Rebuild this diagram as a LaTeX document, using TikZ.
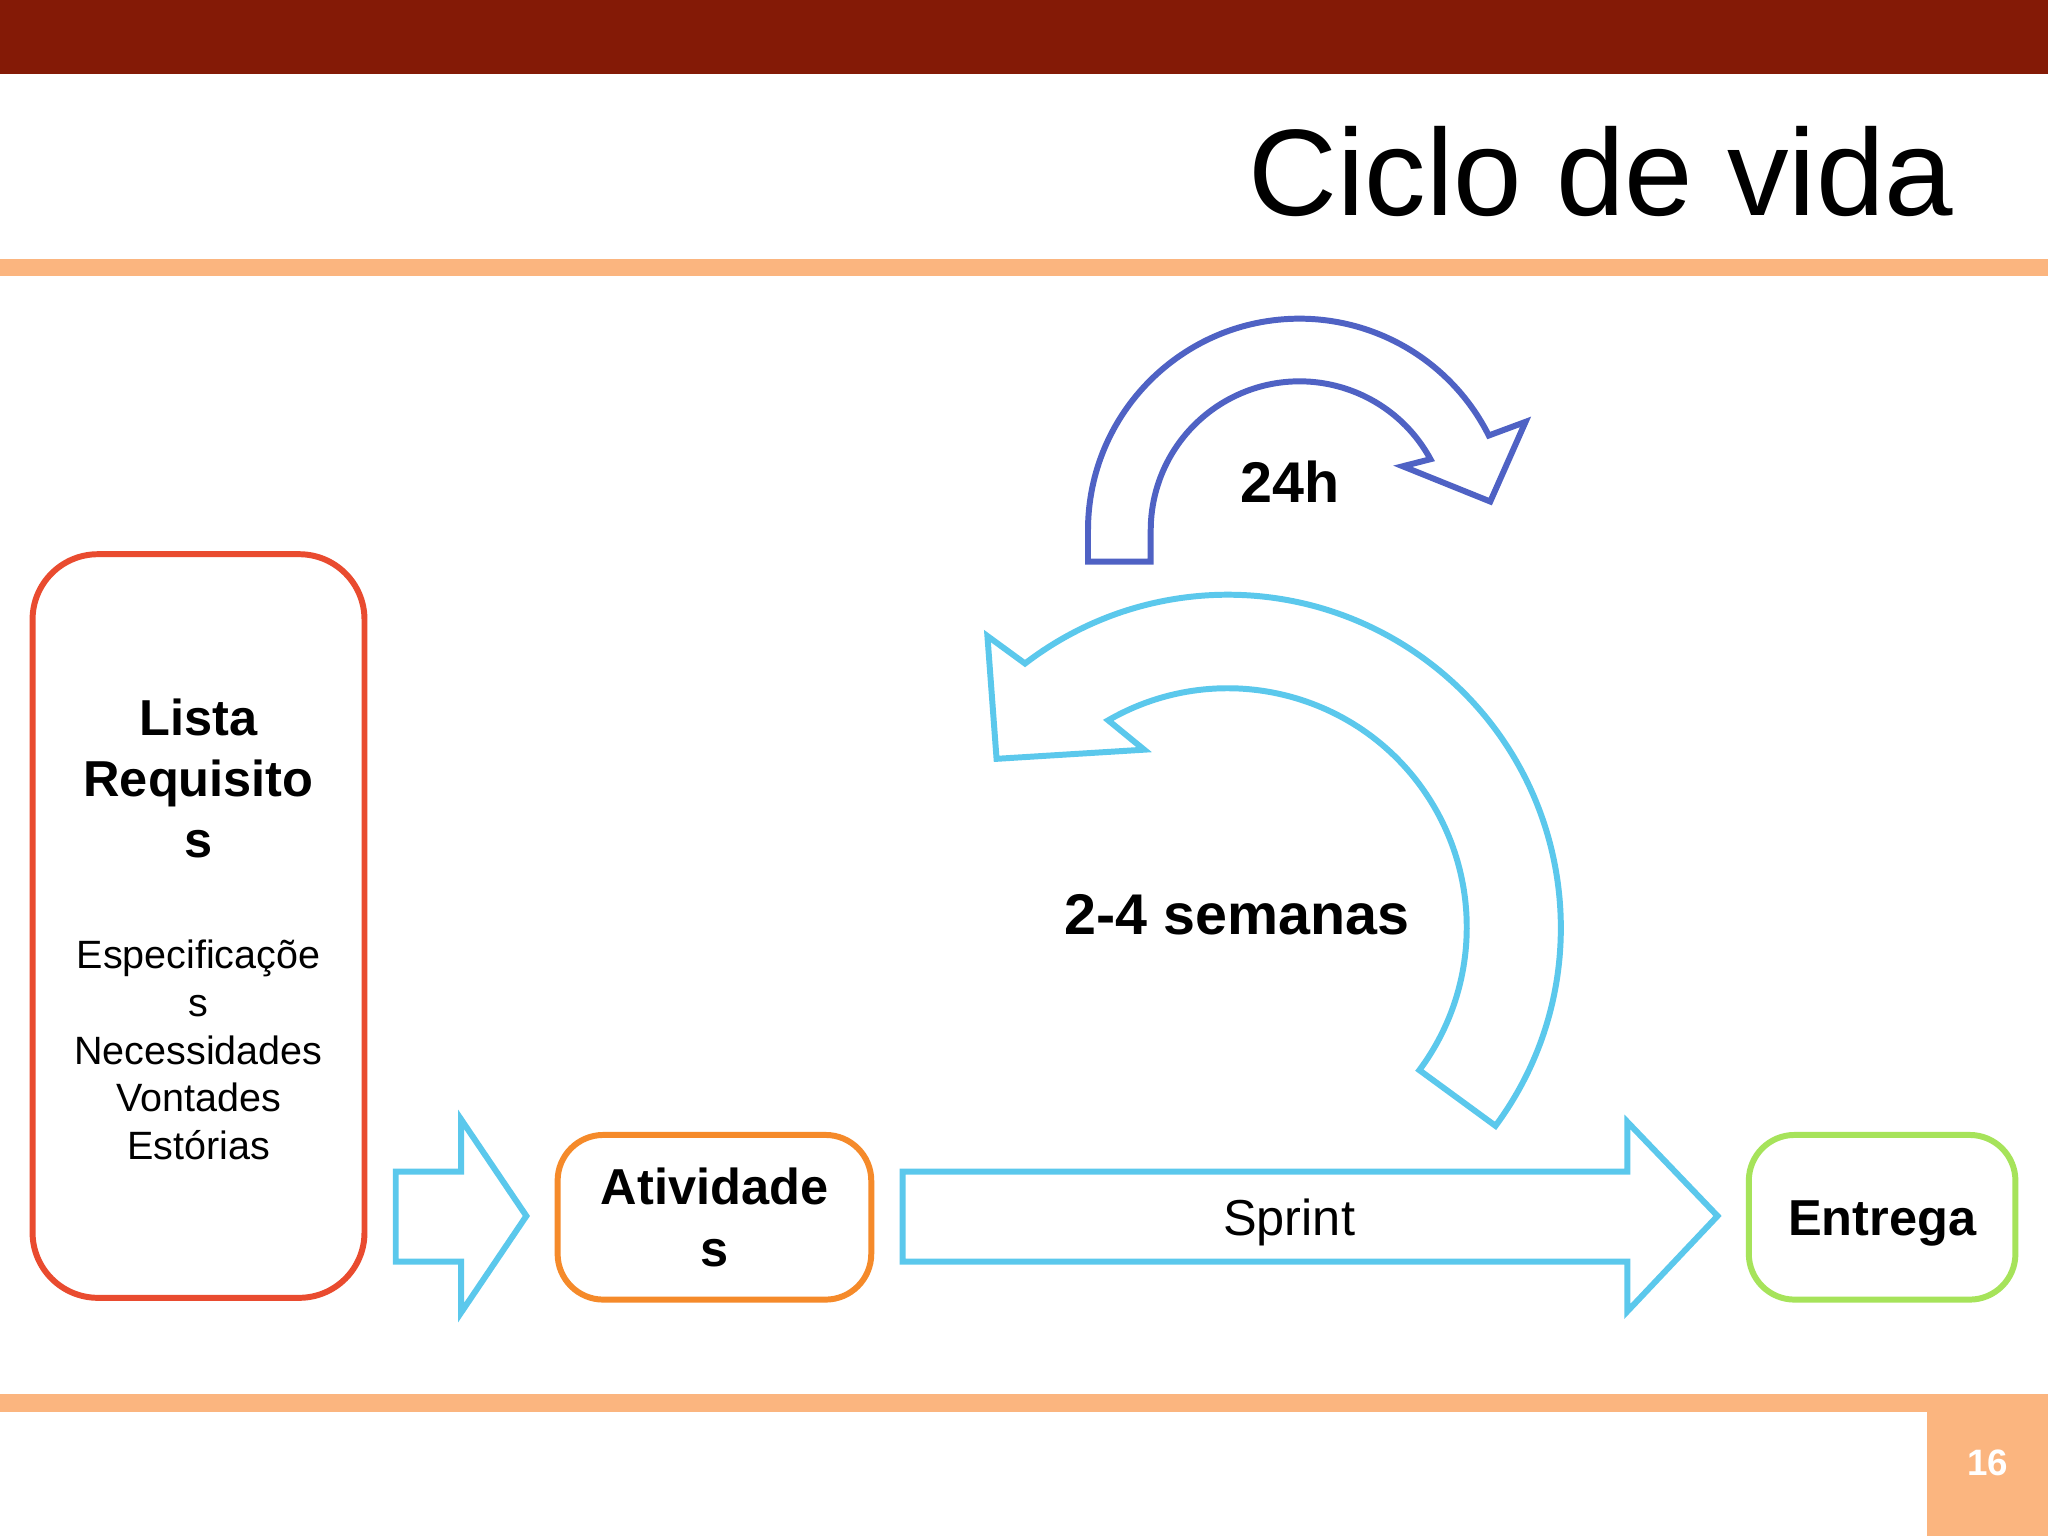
\documentclass[tikz,border=0pt]{standalone}
\usepackage{fontspec}
\setmainfont{Liberation Sans}
\definecolor{topred}{HTML}{841A06}
\definecolor{peach}{HTML}{FBB57F}
\definecolor{cred}{HTML}{E94B2F}
\definecolor{corange}{HTML}{F58A2A}
\definecolor{cgreen}{HTML}{A6E35A}
\definecolor{ccyan}{HTML}{5BC8EC}
\definecolor{cblue}{HTML}{4F62C4}
\tikzset{
 box/.style={draw,line width=1.3pt,rounded corners=0.35cm,align=center,font=\fontsize{11}{13.5}\selectfont\bfseries},
 shapeline/.style={line width=1.3pt,line join=miter,fill=white},
 lbl/.style={font=\fontsize{12.5}{15}\selectfont\bfseries}
}
\begin{document}
\begin{tikzpicture}[x=0.01cm,y=0.01cm]
\useasboundingbox (0,0) rectangle (1568,1176);
\fill[white] (0,0) rectangle (1568,1176);
\fill[topred] (0,1119) rectangle (1568,1176);
\fill[peach] (0,965) rectangle (1568,978);
\fill[peach] (0,95) rectangle (1568,109);
\fill[peach] (1475,0) rectangle (1568,95);
\node[font=\fontsize{8}{9}\selectfont\bfseries,text=white] (pg) at (1522,56) {16};
\node[anchor=east,font=\fontsize{26.8}{31}\selectfont] (title) at (1508,1045) {Ciclo de vida};
% boxes
\node[box,draw=cred,minimum width=2.54cm,minimum height=5.69cm,rounded corners=0.5cm] (lista) at (152,467) {};
\node[align=center,font=\fontsize{11}{13.3}\selectfont\bfseries] (listat) at (152,580) {Lista\\Requisito\\s};
\node[align=center,font=\fontsize{8.6}{10.4}\selectfont] (listas) at (152,372) {Especificaçõe\\s\\Necessidades\\Vontades\\Estórias};
\node[box,draw=corange,minimum width=2.4cm,minimum height=1.26cm] (ativ) at (547,244) {Atividade\\s};
\node[box,draw=cgreen,minimum width=2.04cm,minimum height=1.26cm] (entr) at (1441,244) {};
\node[font=\fontsize{11}{13.5}\selectfont\bfseries] (entrt) at (1441,239) {Entrega};
% block arrows
\draw[shapeline,draw=ccyan] (303,279) -- (353,279) -- (353,319) -- (403,245) -- (353,171) -- (353,210) -- (303,210) -- cycle;
\draw[shapeline,draw=ccyan] (691,279) -- (1246,279) -- (1246,317) -- (1315,245) -- (1246,172) -- (1246,210) -- (691,210) -- cycle;
\node[font=\fontsize{11}{13}\selectfont] (spr) at (987,240) {Sprint};
% big cyan curved arrow
\draw[shapeline,draw=ccyan] (1145,314) arc[start angle=-36.5,end angle=127.5,radius=255] -- (756,689) -- (763,595) -- (876,602) -- (848.5,624.5) arc[start angle=120,end angle=-36.7,radius=183] -- cycle;
% small blue arrow
\draw[shapeline,draw=cblue] (833,746) -- (833,770) arc[start angle=180,end angle=26.6,radius=162] -- (1168,853) -- (1141,792) -- (1074,819) -- (1095.2,824.4) arc[start angle=28.5,end angle=180,radius=114] -- (881,746) -- cycle;
\node[lbl] (h24) at (988,807) {24h};
\node[lbl] (sem) at (947,476) {2-4 semanas};
\end{tikzpicture}
\end{document}
